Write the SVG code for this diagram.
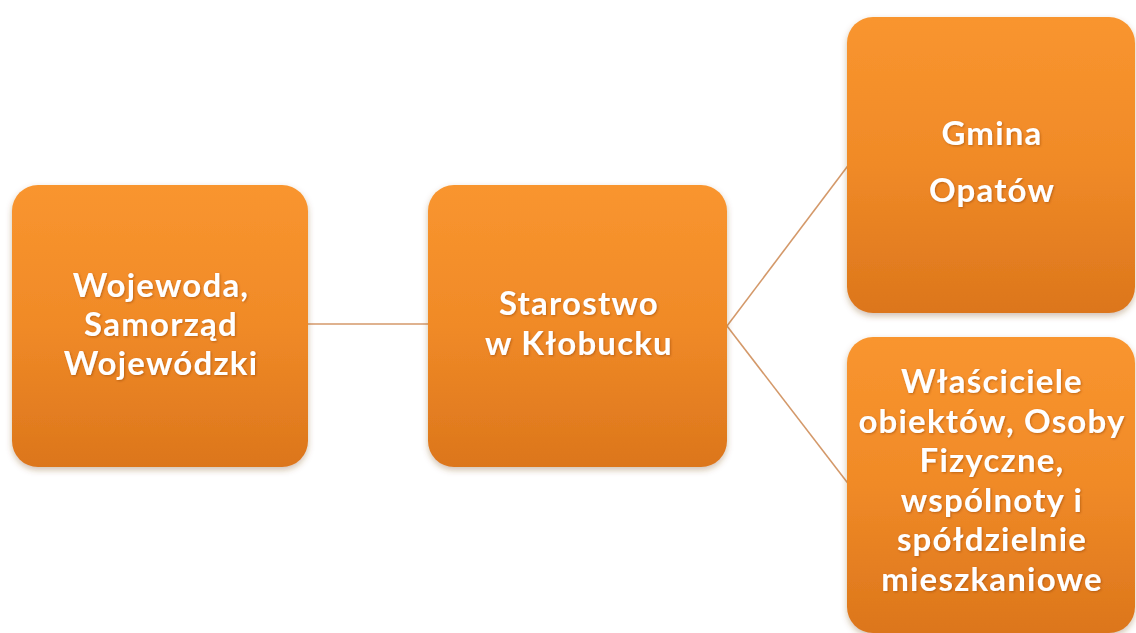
<svg xmlns="http://www.w3.org/2000/svg" width="1136" height="633" viewBox="0 0 1136 633">
  <defs>
    <linearGradient id="g" x1="0" y1="0" x2="0" y2="1">
      <stop offset="0" stop-color="#F9952F"/>
      <stop offset="0.5" stop-color="#F08A27"/>
      <stop offset="1" stop-color="#DC761C"/>
    </linearGradient>
    <filter id="sh" x="-10%" y="-10%" width="120%" height="125%">
      <feDropShadow dx="0" dy="3" stdDeviation="3" flood-color="#7a4a20" flood-opacity="0.35"/>
    </filter>
    <filter id="ts" x="-5%" y="-20%" width="110%" height="140%">
      <feDropShadow dx="1" dy="1" stdDeviation="1" flood-color="#8a3c00" flood-opacity="0.5"/>
    </filter>
  </defs>
  <style>
    .box { fill: url(#g); filter: url(#sh); }
    .lbl { font-family: Lato, "Liberation Sans", sans-serif; font-weight: bold; font-size: 33px; letter-spacing: 1.2px; fill: #ffffff; text-anchor: middle; filter: url(#ts); }
    .con { stroke: #D4996A; stroke-width: 1.6; fill: none; }
  </style>
  <rect width="1136" height="633" fill="#ffffff"/>
  <g id="connectors">
    <line class="con" x1="300" y1="324" x2="436" y2="324"/>
    <line class="con" x1="727" y1="326" x2="850" y2="163"/>
    <line class="con" x1="727" y1="326" x2="850" y2="486"/>
  </g>
  <g id="wojewoda">
    <rect class="box" x="12" y="185" width="296" height="282" rx="26"/>
    <text class="lbl" x="161" y="297">Wojewoda,</text>
    <text class="lbl" x="161" y="336">Samorząd</text>
    <text class="lbl" x="161" y="375">Wojewódzki</text>
  </g>
  <g id="starostwo">
    <rect class="box" x="428" y="185" width="299" height="282" rx="26"/>
    <text class="lbl" x="579" y="315">Starostwo</text>
    <text class="lbl" x="579" y="355">w Kłobucku</text>
  </g>
  <g id="gmina">
    <rect class="box" x="847" y="17" width="288" height="296" rx="26"/>
    <text class="lbl" x="992" y="145">Gmina</text>
    <text class="lbl" x="992" y="202">Opatów</text>
  </g>
  <g id="wlasciciele">
    <rect class="box" x="847" y="337" width="288" height="296" rx="26"/>
    <text class="lbl" x="992" y="393">Właściciele</text>
    <text class="lbl" x="992" y="433">obiektów, Osoby</text>
    <text class="lbl" x="992" y="472">Fizyczne,</text>
    <text class="lbl" x="992" y="512">wspólnoty i</text>
    <text class="lbl" x="992" y="551">spółdzielnie</text>
    <text class="lbl" x="992" y="591">mieszkaniowe</text>
  </g>
</svg>
